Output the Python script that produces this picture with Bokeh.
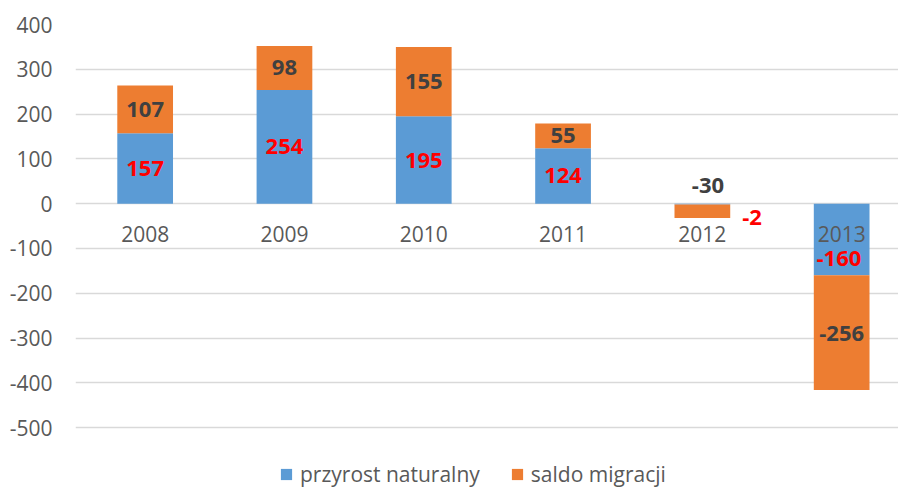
from bokeh.plotting import figure
from bokeh.models import ColumnDataSource, FixedTicker, Range1d, Legend, LegendItem
from bokeh.core.properties import value
from bokeh.embed import file_html
from bokeh.resources import INLINE

years = ["2008", "2009", "2010", "2011", "2012", "2013"]
przyrost = [157, 254, 195, 124, -2, -160]
saldo = [107, 98, 155, 55, -30, -256]
y_ticks = [-500, -400, -300, -200, -100, 0, 100, 200, 300, 400]

BLUE = "#5B9BD5"
ORANGE = "#ED7D31"
FONT = "Open Sans"

xs = list(range(len(years)))
b_bottom = [0] * len(xs)
b_top = przyrost
o_bottom = [p if (p >= 0) == (s >= 0) else 0 for p, s in zip(przyrost, saldo)]
o_top = [ob + s for ob, s in zip(o_bottom, saldo)]

p = figure(width=898, height=489, output_backend="svg", toolbar_location=None,
           x_axis_location=None, x_range=Range1d(-0.5, 5.408), y_range=Range1d(-638, 400),
           min_border_left=75, min_border_right=0, min_border_top=24, min_border_bottom=0)
p.outline_line_color = None
p.xgrid.visible = False
p.ygrid.grid_line_color = "#D9D9D9"
p.ygrid.grid_line_width = 1.3
p.ygrid.ticker = FixedTicker(ticks=y_ticks)

ax = p.yaxis[0]
ax.ticker = FixedTicker(ticks=y_ticks)
ax.major_label_overrides = {t: str(t) for t in y_ticks}
ax.axis_line_color = None
ax.major_tick_line_color = None
ax.minor_tick_line_color = None
ax.major_tick_out = 0
ax.major_label_standoff = 23
ax.major_label_text_font = FONT
ax.major_label_text_font_size = "21px"
ax.major_label_text_color = "#595959"

src = ColumnDataSource(dict(x=xs, bb=b_bottom, bt=b_top, ob=o_bottom, ot=o_top))
rb = p.vbar(x="x", bottom="bb", top="bt", width=0.4, source=src, fill_color=BLUE, line_color=None)
ro = p.vbar(x="x", bottom="ob", top="ot", width=0.4, source=src, fill_color=ORANGE, line_color=None)

# category labels next to zero line
p.text(x=xs, y=[-68.5] * len(xs), text=years, text_font=value(FONT), text_font_size="21px",
       text_color="#595959", text_align="center", text_baseline="middle")

# data labels (segment centres, with Excel's odd placements for 2012/2013)
b_dx = [0, 0, 0, 0, 0.357, -0.02]
b_dy = [0, 0, 0, 0, -30, -43]
o_dx = [0, 0, 0, 0, 0.04, 0.0]
o_dy = [0, 0, 0, 0, 58, -1.5]
bx = [x + d for x, d in zip(xs, b_dx)]
by = [(a + b) / 2 + d for a, b, d in zip(b_bottom, b_top, b_dy)]
ox = [x + d for x, d in zip(xs, o_dx)]
oy = [(a + b) / 2 + d for a, b, d in zip(o_bottom, o_top, o_dy)]
p.text(x=bx, y=by, text=[str(v) for v in przyrost], text_font=value(FONT), text_font_size="22px",
       text_font_style="bold", text_color="#FF0000", text_align="center", text_baseline="middle")
p.text(x=ox, y=oy, text=[str(v) for v in saldo], text_font=value(FONT), text_font_size="22px",
       text_font_style="bold", text_color="#404040", text_align="center", text_baseline="middle")

legend = Legend(items=[LegendItem(label="przyrost naturalny", renderers=[rb]),
                       LegendItem(label="saldo migracji", renderers=[ro])],
                orientation="horizontal", location=(204, 1),
                glyph_width=14, glyph_height=14, label_standoff=7, spacing=30,
                padding=0, margin=0, border_line_color=None, background_fill_alpha=0,
                label_text_font=FONT, label_text_font_size="21px", label_text_color="#595959")
p.add_layout(legend, "center")

open("out.html", "w").write(file_html(p, INLINE))
